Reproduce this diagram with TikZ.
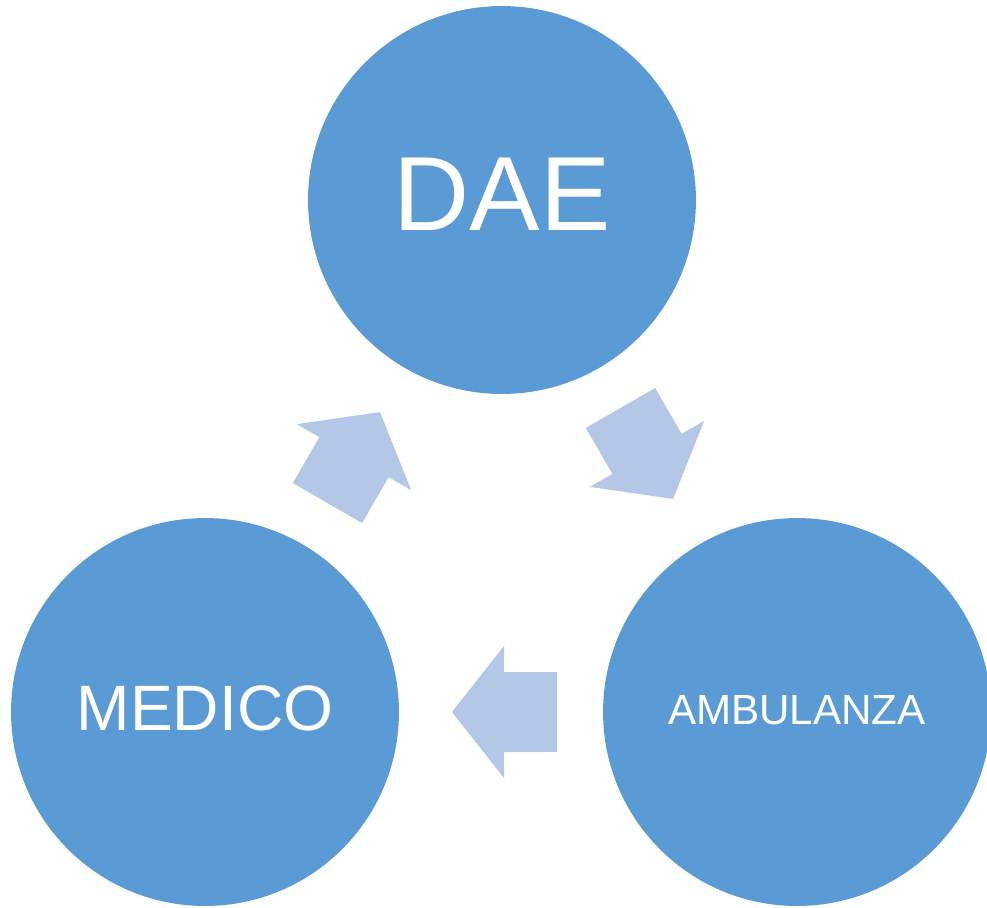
\documentclass[tikz,border=0pt]{standalone}
\usepackage{fontspec}
\setmainfont{Liberation Sans}
\usetikzlibrary{calc}

\definecolor{circblue}{HTML}{5B9BD5}
\definecolor{arrowblue}{HTML}{B4C7E7}

\begin{document}
\begin{tikzpicture} [x=0.02cm, y=0.02cm,
        circ/.style={shape=circle, fill=circblue, minimum size=7.76cm, inner sep=0pt, text=white},
        blockarrow/.pic={\fill [arrowblue] (-52, -40) -- (1, -40) -- (1, -66) -- (53, 0) -- (1, 66) -- (1, 40) -- (-52, 40) -- cycle;}]
        \useasboundingbox (0, 0) rectangle (987, -907);
        \clip (0, 0) rectangle (987, -907);
        \node [circ, text depth=0.24cm, font=\fontsize{60}{60}\selectfont] (dae) at (502, -200) {DAE};
        \node [circ, text depth=0.14cm, font=\fontsize{36.5}{36.5}\selectfont] (medico) at (205, -712) {MEDICO};
        \node [circ, text depth=0.08cm, font=\fontsize{24}{24}\selectfont] (ambulanza) at (797, -712) {AMBULANZA};
        \pic [rotate=-60] at ($(dae)!0.5!(ambulanza) + (-3, 3)$) {blockarrow};
        \pic [rotate=180] at ($(ambulanza)!0.5!(medico) + (4, 0)$) {blockarrow};
        \pic [rotate=60] at ($(medico)!0.5!(dae) + (0, -2)$) {blockarrow};
    \end{tikzpicture}
\end{document}
